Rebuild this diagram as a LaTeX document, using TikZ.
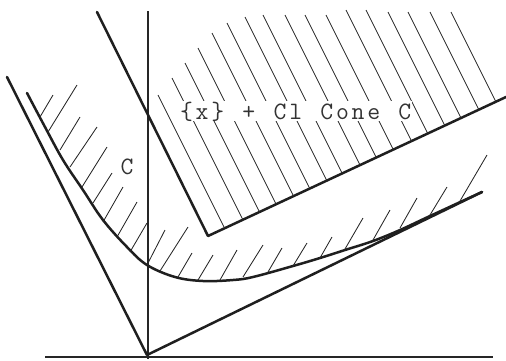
\documentclass[tikz,border=0pt]{standalone}
\usepackage{fontspec}
\newcommand\cellch[1]{\makebox[15.6pt]{#1}}
\begin{document}
\begin{tikzpicture}[x=1pt,y=-1pt,
  heavy/.style={line width=2.5pt, color=black!88, line join=round, line cap=round},
  axisline/.style={line width=1.1pt, color=black!85},
  hatch/.style={line width=0.85pt, color=black!85},
  lab/.style={font=\ttfamily\fontsize{25}{25}\selectfont, text=black!80, inner sep=0pt}]
\useasboundingbox (0,0) rectangle (506,360);

% axes
\draw[axisline] (45,357) -- (493,357);
\draw[axisline] (148,11) -- (148,359);

% cone C (tangent lines at origin)
\coordinate (O) at (147,355);
\coordinate (L) at (7,77);
\coordinate (R) at (482,192);
\draw[heavy] (L) -- (O) -- (R);

% translated cone {x} + Cl Cone C
\coordinate (V) at (208,236);
\coordinate (VL) at (97,12);
\coordinate (VR) at (506,97);
\draw[heavy] (VL) -- (V) -- (VR);

% hatching inside translated cone
\foreach \c/\t in {110.5/95, 133/78, 153.5/63, 174/48, 195.5/33, 215.5/23, 236.5/17,
                   255.5/15, 277.5/15, 297.5/15, 318.5/15, 341/10, 361/10, 382/12,
                   402/12, 424/12, 445/12} {
  \pgfmathsetmacro\yb{(236-0.466*(\c-208))/1.233}
  \draw[hatch] (\c+0.5*\t, \t) -- (\c+0.5*\yb, \yb);
}
\fill[white] (180,101) rectangle (412,121);
\node[lab, anchor=west] (tlabel) at (178.5,111.5)
  {\cellch{\{}\cellch{x}\cellch{\}}\cellch{}\cellch{+}\cellch{}\cellch{C}\cellch{l}\cellch{}\cellch{C}\cellch{o}\cellch{n}\cellch{e}\cellch{}\cellch{C}};

% boundary curve of C
\draw[heavy] plot[smooth, tension=0.6] coordinates {
  (27,93) (45,127) (63,160) (83,190) (103,220) (127,247) (147,265) (175,277)
  (203,281) (233,280) (253,277) (293,266) (320,258) (345,250) (373,241)
  (400,230) (430,216) (482,192)};

% hatching of C
\foreach \a/\b/\p/\q in {40/117/53/95, 48/132/77/85, 60/150/80/117, 70/167/97/127,
  82/187/107/147, 93/203/112/173, 103/222/123/187, 117/237/137/202, 130/252/147/223,
  147/265/165/230, 160/271/188/227, 178/277/192/253, 198/280/213/255, 220/280/237/250,
  243/277/263/245, 268/272/282/248, 293/266/307/243, 320/258/332/237, 345/249/363/218,
  373/240/390/210, 400/228/417/198, 430/215/447/187, 460/201/487/155} {
  \draw[hatch] (\a,\b) -- (\p,\q);
}

\node[lab] (clabel) at (127,167) {C};
\end{tikzpicture}
\end{document}
